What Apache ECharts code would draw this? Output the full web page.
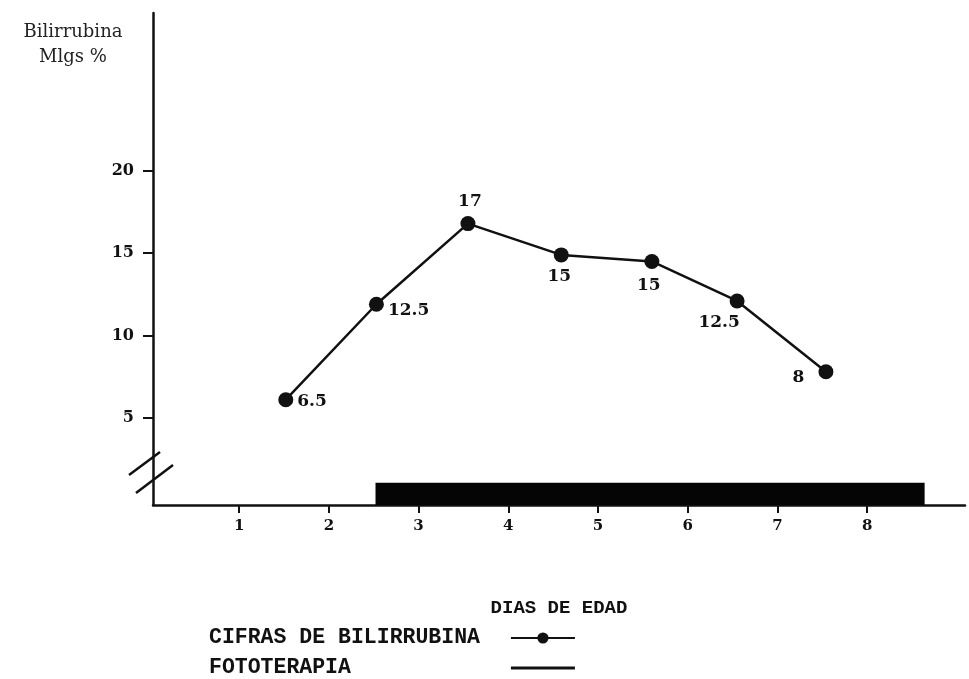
<!DOCTYPE html>
<html>
<head>
<meta charset="utf-8">
<script src="https://cdn.jsdelivr.net/npm/echarts@6/dist/echarts.min.js"></script>
<style>
  html, body { margin: 0; padding: 0; background: #fff; }
  #chart { width: 969px; height: 679px; }
</style>
</head>
<body>
<div id="chart"></div>
<script>
// days of age (x) and bilirubin (mg %)
const days = [1.52, 2.53, 3.55, 4.59, 5.6, 6.55, 7.54];
const bilirubin = [6.1, 11.9, 16.8, 14.9, 14.5, 12.1, 7.8];
const pointLabels = ["6.5", "12.5", "17", "15", "15", "12.5", "8"];

const xTicks = [1, 2, 3, 4, 5, 6, 7, 8];
const yTicks = [5, 10, 15, 20];

// phototherapy period (day range) and bar height in axis units
const photoRange = [2.52, 8.64];
const photoTop = 1.05;

const X_MIN = 0.04, X_MAX = 9.09;
const Y_MIN = -0.3, Y_MAX = 29.6;

const serif = "DejaVu Serif";
const mono = "Liberation Mono";

// where each value label sits relative to its dot
const labelPlace = [
  { position: "right", offset: [-2, 2] },
  { position: "right", offset: [-2, 6] },
  { position: "top", offset: [2, 0] },
  { position: "bottom", offset: [-2, 0] },
  { position: "bottom", offset: [-3, 2] },
  { position: "bottom", offset: [-18, 0] },
  { position: "left", offset: [-8, 6] },
];

const chart = echarts.init(document.getElementById("chart"));

const lineData = days.map((d, i) => ({
  value: [d, bilirubin[i]],
  label: { show: true, formatter: pointLabels[i], ...labelPlace[i] },
}));

// legend text, padded on the right so both icons start at the same x
function legendText(padRight) {
  return {
    color: "#111",
    rich: {
      t: { color: "#111", fontFamily: mono, fontWeight: "bold", fontSize: 21.5, padding: [0, padRight, 0, 0] },
    },
  };
}

chart.setOption({
  animation: false,
  backgroundColor: "#fff",
  grid: { left: 153, right: 4, top: 13, bottom: 174 },
  xAxis: {
    type: "value",
    min: X_MIN,
    max: X_MAX,
    name: "DIAS DE EDAD",
    nameLocation: "middle",
    nameGap: 94,
    nameTextStyle: { color: "#111", fontFamily: mono, fontWeight: "bold", fontSize: 19 },
    axisLine: { onZero: false, lineStyle: { color: "#111", width: 2.5 } },
    axisTick: { customValues: xTicks, length: 8, lineStyle: { color: "#111", width: 2 } },
    axisLabel: {
      customValues: xTicks,
      margin: 14,
      color: "#111",
      fontFamily: serif,
      fontWeight: "bold",
      fontSize: 15,
    },
    splitLine: { show: false },
  },
  yAxis: {
    type: "value",
    min: Y_MIN,
    max: Y_MAX,
    axisLine: { show: true, onZero: false, lineStyle: { color: "#111", width: 2.5 } },
    axisTick: { show: true, customValues: yTicks, length: 10, lineStyle: { color: "#111", width: 2 } },
    axisLabel: {
      customValues: yTicks,
      margin: 19,
      color: "#111",
      fontFamily: serif,
      fontWeight: "bold",
      fontSize: 16,
    },
    splitLine: { show: false },
  },
  legend: [
    {
      left: 209,
      top: 627,
      padding: 0,
      align: "right",
      itemWidth: 64,
      itemHeight: 14,
      selectedMode: false,
      formatter: "{t|{name}}",
      textStyle: legendText(26),
      data: ["CIFRAS DE BILIRRUBINA"],
    },
    {
      left: 209,
      top: 657,
      padding: 0,
      align: "right",
      itemWidth: 64,
      itemHeight: 14,
      selectedMode: false,
      formatter: "{t|{name}}",
      textStyle: legendText(155),
      data: [{ name: "FOTOTERAPIA", icon: "path://M0,0L64,0L64,3L0,3Z" }],
    },
  ],
  graphic: [
    {
      type: "text",
      x: 73,
      y: 20,
      style: {
        text: "Bilirrubina\nMlgs %",
        textAlign: "center",
        fill: "#222",
        font: "18px " + serif,
        lineHeight: 25,
      },
    },
    { type: "line", shape: { x1: 129, y1: 475, x2: 160, y2: 452 }, style: { stroke: "#111", lineWidth: 2.5 } },
    { type: "line", shape: { x1: 136, y1: 493, x2: 173, y2: 465 }, style: { stroke: "#111", lineWidth: 2.5 } },
  ],
  series: [
    {
      name: "CIFRAS DE BILIRRUBINA",
      type: "line",
      data: lineData,
      symbol: "circle",
      symbolSize: 15,
      itemStyle: { color: "#111" },
      lineStyle: { color: "#111", width: 2.5 },
      label: { color: "#111", fontFamily: serif, fontWeight: "bold", fontSize: 17, distance: 6 },
      z: 3,
    },
    {
      name: "FOTOTERAPIA",
      type: "line",
      data: [],
      symbol: "none",
      itemStyle: { color: "#111" },
      lineStyle: { color: "#111", width: 2.5 },
      markArea: {
        silent: true,
        itemStyle: { color: "#050505" },
        data: [[{ xAxis: photoRange[0], yAxis: Y_MIN }, { xAxis: photoRange[1], yAxis: photoTop }]],
      },
    },
  ],
});
</script>
</body>
</html>
